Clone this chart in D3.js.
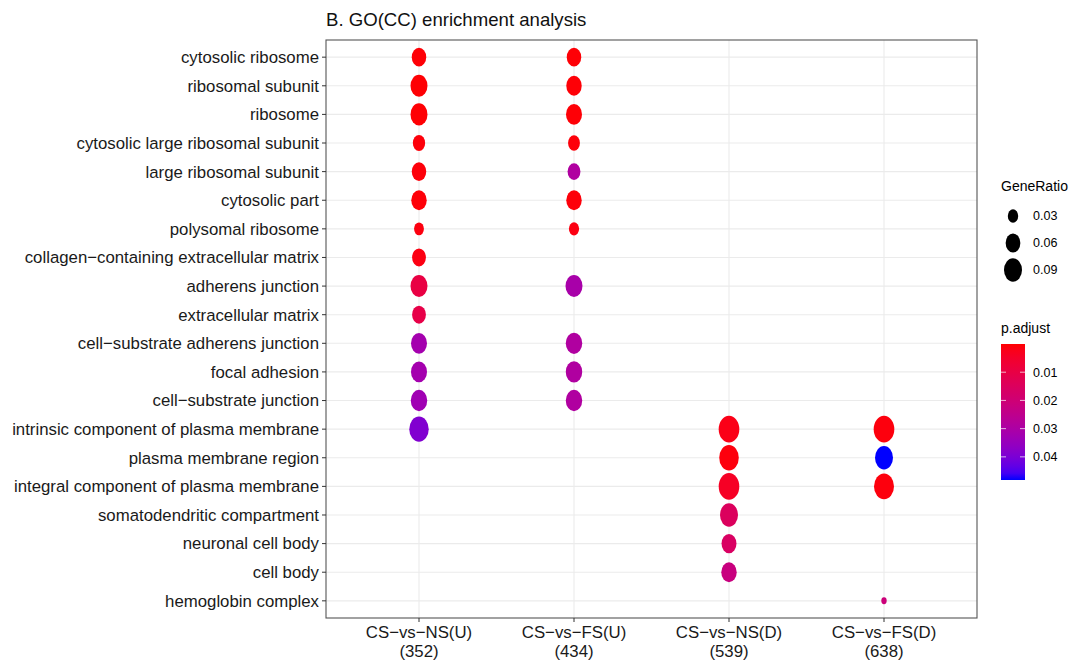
<!DOCTYPE html>
<html>
<head>
<meta charset="utf-8">
<script src="https://cdn.jsdelivr.net/npm/d3@7"></script>
<style>
  body { margin: 0; background: #fff; }
  text { font-family: "Liberation Sans", Arial, sans-serif; }
</style>
</head>
<body>
<div id="chart"></div>
<script>
// GO terms, top to bottom
const terms = [
  "cytosolic ribosome", "ribosomal subunit", "ribosome",
  "cytosolic large ribosomal subunit", "large ribosomal subunit", "cytosolic part",
  "polysomal ribosome", "collagen\u2212containing extracellular matrix", "adherens junction",
  "extracellular matrix", "cell\u2212substrate adherens junction", "focal adhesion",
  "cell\u2212substrate junction", "intrinsic component of plasma membrane",
  "plasma membrane region", "integral component of plasma membrane",
  "somatodendritic compartment", "neuronal cell body", "cell body", "hemoglobin complex"
];

const groups = ["CS\u2212vs\u2212NS(U)", "CS\u2212vs\u2212FS(U)", "CS\u2212vs\u2212NS(D)", "CS\u2212vs\u2212FS(D)"];
const groupCounts = [352, 434, 539, 638];

// GeneRatio per group, aligned with terms (null = not enriched)
const ratioNSU = [0.058, 0.080, 0.080, 0.042, 0.058, 0.066, 0.027, 0.053, 0.080, 0.053,
                  0.071, 0.071, 0.075, 0.105, null, null, null, null, null, null];
const ratioFSU = [0.058, 0.066, 0.071, 0.039, 0.046, 0.066, 0.029, null, 0.080, null,
                  0.075, 0.075, 0.075, null, null, null, null, null, null, null];
const ratioNSD = [null, null, null, null, null, null, null, null, null, null,
                  null, null, null, 0.118, 0.106, 0.118, 0.090, 0.062, 0.066, null];
const ratioFSD = [null, null, null, null, null, null, null, null, null, null,
                  null, null, null, 0.118, 0.090, 0.111, null, null, null, 0.008];

// p.adjust per group
const padjNSU = [0.0005, 0.0003, 0.0003, 0.0008, 0.0008, 0.0006, 0.0012, 0.0015, 0.0095, 0.0105,
                 0.032, 0.032, 0.033, 0.039, null, null, null, null, null, null];
const padjFSU = [0.0005, 0.0005, 0.0005, 0.0008, 0.029, 0.0008, 0.0015, null, 0.031, null,
                 0.029, 0.029, 0.029, null, null, null, null, null, null, null];
const padjNSD = [null, null, null, null, null, null, null, null, null, null,
                 null, null, null, 0.002, 0.001, 0.004, 0.015, 0.016, 0.022, null];
const padjFSD = [null, null, null, null, null, null, null, null, null, null,
                 null, null, null, 0.001, 0.0482, 0.001, null, null, null, 0.021];

const ratios = [ratioNSU, ratioFSU, ratioNSD, ratioFSD];
const padjs = [padjNSU, padjFSU, padjNSD, padjFSD];

const sizeBreaks = [0.03, 0.06, 0.09];
const colorBreaks = [0.01, 0.02, 0.03, 0.04];
const padjRange = [0.00001, 0.0482];

const width = 1083, height = 664;
const panel = { left: 326, right: 977, top: 40, bottom: 618 };
const fontSize = 16.8;

const svg = d3.select("#chart").append("svg")
  .attr("width", width)
  .attr("height", height);

const x = d3.scalePoint().domain(groups).range([panel.left, panel.right]).padding(0.6);
const y = d3.scalePoint().domain(terms).range([panel.top, panel.bottom]).padding(0.6);
const size = d3.scaleSqrt().domain([0, 0.12]).range([0, 27]);
const color = d3.scaleLinear().domain(padjRange).range(["#FF0000", "#0000FF"])
  .interpolate(d3.interpolateLab);
const aspect = 0.77;

// points
const points = [];
groups.forEach((g, gi) => {
  terms.forEach((t, ti) => {
    const r = ratios[gi][ti];
    if (r != null) points.push({ group: g, term: t, ratio: r, padj: padjs[gi][ti] });
  });
});

// grid
const grid = svg.append("g").attr("stroke", "#EBEBEB").attr("stroke-width", 1.1);
grid.selectAll("line.h").data(terms).join("line")
  .attr("x1", panel.left).attr("x2", panel.right)
  .attr("y1", d => y(d)).attr("y2", d => y(d));
grid.selectAll("line.v").data(groups).join("line")
  .attr("y1", panel.top).attr("y2", panel.bottom)
  .attr("x1", d => x(d)).attr("x2", d => x(d));

// dots
svg.append("g").selectAll("ellipse")
  .data(points)
  .join("ellipse")
    .attr("cx", d => x(d.group))
    .attr("cy", d => y(d.term))
    .attr("ry", d => size(d.ratio) / 2)
    .attr("rx", d => size(d.ratio) / 2 * aspect)
    .attr("fill", d => color(d.padj));

// panel border
svg.append("rect")
  .attr("x", panel.left).attr("y", panel.top)
  .attr("width", panel.right - panel.left).attr("height", panel.bottom - panel.top)
  .attr("fill", "none").attr("stroke", "#555").attr("stroke-width", 1.1);

// y axis
const yAxis = svg.append("g");
yAxis.selectAll("line").data(terms).join("line")
  .attr("x1", panel.left - 4).attr("x2", panel.left)
  .attr("y1", d => y(d)).attr("y2", d => y(d))
  .attr("stroke", "#333");
yAxis.selectAll("text").data(terms).join("text")
  .attr("x", panel.left - 7)
  .attr("y", d => y(d))
  .attr("dy", "0.35em")
  .attr("text-anchor", "end")
  .attr("font-size", fontSize)
  .attr("fill", "#1a1a1a")
  .text(d => d);

// x axis
const xAxis = svg.append("g");
xAxis.selectAll("line").data(groups).join("line")
  .attr("x1", d => x(d)).attr("x2", d => x(d))
  .attr("y1", panel.bottom).attr("y2", panel.bottom + 4)
  .attr("stroke", "#333");
const xl = xAxis.selectAll("text").data(groups).join("text")
  .attr("x", d => x(d))
  .attr("y", panel.bottom + 20)
  .attr("text-anchor", "middle")
  .attr("font-size", fontSize)
  .attr("fill", "#1a1a1a");
xl.append("tspan").text(d => d);
xl.append("tspan").attr("x", d => x(d)).attr("dy", 19)
  .text((d, i) => "(" + groupCounts[i] + ")");

// title
svg.append("text")
  .attr("x", panel.left).attr("y", 26)
  .attr("font-size", 18.6)
  .attr("fill", "#111")
  .text("B. GO(CC) enrichment analysis");

// size legend
const lg = svg.append("g");
lg.append("text").attr("x", 1001).attr("y", 191).attr("font-size", 14).text("GeneRatio");
const sizeRows = lg.selectAll("g.s").data(sizeBreaks).join("g")
  .attr("transform", (d, i) => `translate(0,${216 + i * 27})`);
sizeRows.append("ellipse")
  .attr("cx", 1013).attr("cy", 0)
  .attr("ry", d => size(d) / 2)
  .attr("rx", d => size(d) / 2 * aspect)
  .attr("fill", "#000");
sizeRows.append("text")
  .attr("x", 1033).attr("dy", "0.35em")
  .attr("font-size", 12.5)
  .text(d => d.toFixed(2));

// colour legend
const cbTop = 344, cbBottom = 480, cbX = 1001, cbW = 24;
const cbY = d3.scaleLinear().domain(padjRange).range([cbTop, cbBottom]);
lg.append("text").attr("x", 1001).attr("y", 333).attr("font-size", 14).text("p.adjust");
const defs = svg.append("defs");
const grad = defs.append("linearGradient").attr("id", "padj-grad")
  .attr("x1", 0).attr("x2", 0).attr("y1", 0).attr("y2", 1);
grad.selectAll("stop").data(d3.range(0, 1.0001, 0.05)).join("stop")
  .attr("offset", d => d)
  .attr("stop-color", d => color(padjRange[0] + d * (padjRange[1] - padjRange[0])));
lg.append("rect")
  .attr("x", cbX).attr("y", cbTop)
  .attr("width", cbW).attr("height", cbBottom - cbTop)
  .attr("fill", "url(#padj-grad)");
const cbTicks = lg.selectAll("g.c").data(colorBreaks).join("g")
  .attr("transform", d => `translate(0,${cbY(d)})`);
cbTicks.append("line").attr("x1", cbX).attr("x2", cbX + 5)
  .attr("stroke", "#fff").attr("stroke-opacity", 0.7);
cbTicks.append("line").attr("x1", cbX + cbW - 5).attr("x2", cbX + cbW)
  .attr("stroke", "#fff").attr("stroke-opacity", 0.7);
cbTicks.append("text")
  .attr("x", 1033).attr("dy", "0.35em")
  .attr("font-size", 12.5)
  .text(d => d.toFixed(2));
</script>
</body>
</html>
